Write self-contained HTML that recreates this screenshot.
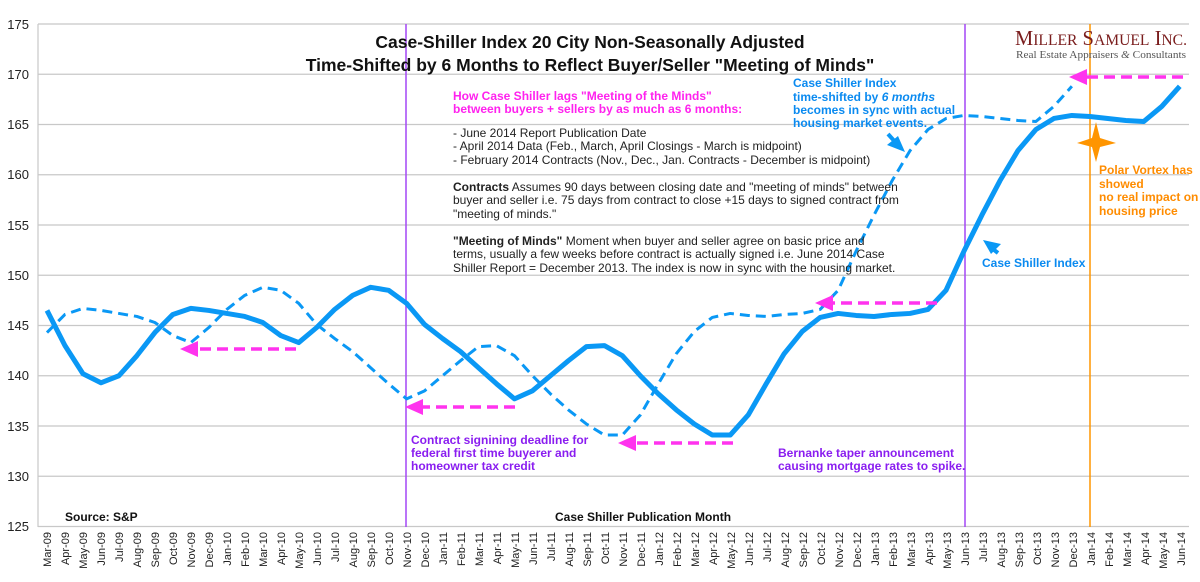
<!DOCTYPE html>
<html><head><meta charset="utf-8"><style>
body{margin:0;background:#fff}
svg{display:block;font-family:"Liberation Sans",Arial,sans-serif}
</style></head><body>
<svg width="1200" height="582" viewBox="0 0 1200 582" xmlns="http://www.w3.org/2000/svg">
<rect width="1200" height="582" fill="#fff"/>
<g stroke="#c8c8c8" stroke-width="1.2">
<line x1="38" x2="1189" y1="24" y2="24"/><line x1="38" x2="1189" y1="74.25" y2="74.25"/>
<line x1="38" x2="1189" y1="124.5" y2="124.5"/><line x1="38" x2="1189" y1="174.75" y2="174.75"/>
<line x1="38" x2="1189" y1="225" y2="225"/><line x1="38" x2="1189" y1="275.25" y2="275.25"/>
<line x1="38" x2="1189" y1="325.5" y2="325.5"/><line x1="38" x2="1189" y1="375.75" y2="375.75"/>
<line x1="38" x2="1189" y1="426" y2="426"/><line x1="38" x2="1189" y1="476.25" y2="476.25"/>
<line x1="38" x2="1189" y1="526.5" y2="526.5"/>
<line x1="38" x2="38" y1="24" y2="527"/>
</g>
<g font-size="13" fill="#222" text-anchor="end">
<text x="29" y="29">175</text><text x="29" y="79">170</text><text x="29" y="129">165</text><text x="29" y="179">160</text><text x="29" y="230">155</text><text x="29" y="280">150</text><text x="29" y="330">145</text><text x="29" y="380">140</text><text x="29" y="431">135</text><text x="29" y="481">130</text><text x="29" y="531">125</text>
</g>

<line x1="406" x2="406" y1="24" y2="527" stroke="#a347f5" stroke-width="1.5"/>
<line x1="965" x2="965" y1="24" y2="527" stroke="#a347f5" stroke-width="1.5"/>
<line x1="1090" x2="1090" y1="24" y2="527" stroke="#ff9500" stroke-width="1.5"/>

<g transform="translate(47,1782.75) scale(17.98,-10.05)" fill="none" stroke="#0a98f5" stroke-linejoin="round">
<polyline vector-effect="non-scaling-stroke" stroke-width="5" points="0,146.5 1,143 2,140.2 3,139.3 4,140 5,142 6,144.3 7,146.1 8,146.7 9,146.5 10,146.2 11,145.9 12,145.3 13,144 14,143.3 15,144.8 16,146.6 17,148 18,148.8 19,148.5 20,147.2 21,145.1 22,143.7 23,142.4 24,140.8 25,139.2 26,137.7 27,138.5 28,140 29,141.5 30,142.9 31,143 32,142 33,140 34,138.2 35,136.6 36,135.2 37,134.1 38,134.1 39,136.1 40,139.2 41,142.2 42,144.4 43,145.8 44,146.2 45,146 46,145.9 47,146.1 48,146.2 49,146.6 50,148.5 51,152.4 52,156 53,159.4 54,162.4 55,164.5 56,165.6 57,165.9 58,165.8 59,165.6 60,165.4 61,165.3 62,166.8 63,168.8"/>
<polyline vector-effect="non-scaling-stroke" stroke-width="3" stroke-dasharray="10,6" points="0,144.3 1,146.1 2,146.7 3,146.5 4,146.2 5,145.9 6,145.3 7,144 8,143.3 9,144.8 10,146.6 11,148 12,148.8 13,148.5 14,147.2 15,145.1 16,143.7 17,142.4 18,140.8 19,139.2 20,137.7 21,138.5 22,140 23,141.5 24,142.9 25,143 26,142 27,140 28,138.2 29,136.6 30,135.2 31,134.1 32,134.1 33,136.1 34,139.2 35,142.2 36,144.4 37,145.8 38,146.2 39,146 40,145.9 41,146.1 42,146.2 43,146.6 44,148.5 45,152.4 46,156 47,159.4 48,162.4 49,164.5 50,165.6 51,165.9 52,165.8 53,165.6 54,165.4 55,165.3 56,166.8 57,168.8"/>
</g>

<g stroke="#ff33ee" stroke-width="3.5" stroke-dasharray="11,6" fill="none">
<line x1="296" y1="349" x2="196" y2="349"/>
<line x1="515" y1="407" x2="420" y2="407"/>
<line x1="733" y1="443" x2="634" y2="443"/>
<line x1="937" y1="303" x2="830" y2="303"/>
<line x1="1183" y1="77" x2="1086" y2="77"/>
</g>
<g fill="#ff33ee">
<polygon points="180,349 198,341 198,357"/>
<polygon points="405,407 423,399 423,415"/>
<polygon points="618,443 636,435 636,451"/>
<polygon points="815,303 833,295 833,311"/>
<polygon points="1069,77 1087,69 1087,85"/>
</g>
<g fill="#0a98f5" stroke="#0a98f5">
<line x1="888" y1="134" x2="897" y2="144" stroke-width="4"/>
<polygon points="905,152 887,145 898,136" stroke="none"/>
<line x1="998" y1="253" x2="989" y2="246" stroke-width="4"/>
<polygon points="983,240 1001,244 991,254" stroke="none"/>
</g>
<path d="M1096,122 L1100,138 L1116,143 L1100,147 L1096,162 L1092,147 L1077,143 L1092,138 Z" fill="#ff9500"/>

<g font-weight="bold" font-size="17.5" text-anchor="middle" fill="#111">
<text x="590" y="48">Case-Shiller Index 20 City Non-Seasonally Adjusted</text>
<text x="590" y="71">Time-Shifted by 6 Months to Reflect Buyer/Seller "Meeting of Minds"</text>
</g>
<text x="1015" y="45" font-family="Liberation Serif,serif" font-size="21" fill="#7a1d1d" textLength="172" lengthAdjust="spacingAndGlyphs">M<tspan font-size="16">ILLER</tspan> S<tspan font-size="16">AMUEL</tspan> I<tspan font-size="16">NC.</tspan></text>
<text x="1016" y="58" font-family="Liberation Serif,serif" font-size="11" fill="#555" textLength="170" lengthAdjust="spacingAndGlyphs">Real Estate Appraisers <tspan font-style="italic">&amp;</tspan> Consultants</text>

<g font-size="12" fill="#ff22ee" font-weight="bold">
<text x="453" y="100">How Case Shiller lags "Meeting of the Minds"</text>
<text x="453" y="113">between buyers + sellers by as much as 6 months:</text>
</g>
<g font-size="12" fill="#222">
<text x="453" y="137">- June 2014 Report Publication Date</text>
<text x="453" y="150">- April 2014 Data (Feb., March, April Closings - March is midpoint)</text>
<text x="453" y="164">- February 2014 Contracts (Nov., Dec., Jan. Contracts - December is midpoint)</text>
<text x="453" y="191"><tspan font-weight="bold">Contracts</tspan> Assumes 90 days between closing date and "meeting of minds" between</text>
<text x="453" y="204">buyer and seller i.e. 75 days from contract to close +15 days to signed contract from</text>
<text x="453" y="218">"meeting of minds."</text>
<text x="453" y="245"><tspan font-weight="bold">"Meeting of Minds"</tspan> Moment when buyer and seller agree on basic price and</text>
<text x="453" y="258">terms, usually a few weeks before contract is actually signed i.e. June 2014 Case</text>
<text x="453" y="272">Shiller Report = December 2013.  The index is now in sync with the housing market.</text>
</g>
<g font-size="12" fill="#0a8af0" font-weight="bold">
<text x="793" y="87">Case Shiller Index</text>
<text x="793" y="101">time-shifted by <tspan font-style="italic">6 months</tspan></text>
<text x="793" y="114">becomes in sync with actual</text>
<text x="793" y="127">housing market events.</text>
<text x="982" y="267">Case Shiller Index</text>
</g>
<g font-size="12" fill="#ff8c00" font-weight="bold">
<text x="1099" y="174">Polar Vortex has</text>
<text x="1099" y="188">showed</text>
<text x="1099" y="201">no real impact on</text>
<text x="1099" y="215">housing price</text>
</g>
<g font-size="12" fill="#8a1df0" font-weight="bold">
<text x="411" y="444">Contract signining deadline for</text>
<text x="411" y="457">federal first time buyerer and</text>
<text x="411" y="470">homeowner tax credit</text>
<text x="778" y="457">Bernanke taper announcement</text>
<text x="778" y="470">causing mortgage rates to spike.</text>
</g>
<g font-size="12" font-weight="bold" fill="#111">
<text x="65" y="521">Source: S&amp;P</text>
<text x="555" y="521">Case Shiller Publication Month</text>
</g>

<g font-size="11" fill="#222" text-anchor="end">
<text transform="translate(51,532) rotate(-90)">Mar-09</text>
<text transform="translate(69,532) rotate(-90)">Apr-09</text>
<text transform="translate(87,532) rotate(-90)">May-09</text>
<text transform="translate(105,532) rotate(-90)">Jun-09</text>
<text transform="translate(123,532) rotate(-90)">Jul-09</text>
<text transform="translate(141,532) rotate(-90)">Aug-09</text>
<text transform="translate(159,532) rotate(-90)">Sep-09</text>
<text transform="translate(177,532) rotate(-90)">Oct-09</text>
<text transform="translate(195,532) rotate(-90)">Nov-09</text>
<text transform="translate(213,532) rotate(-90)">Dec-09</text>
<text transform="translate(231,532) rotate(-90)">Jan-10</text>
<text transform="translate(249,532) rotate(-90)">Feb-10</text>
<text transform="translate(267,532) rotate(-90)">Mar-10</text>
<text transform="translate(285,532) rotate(-90)">Apr-10</text>
<text transform="translate(303,532) rotate(-90)">May-10</text>
<text transform="translate(321,532) rotate(-90)">Jun-10</text>
<text transform="translate(339,532) rotate(-90)">Jul-10</text>
<text transform="translate(357,532) rotate(-90)">Aug-10</text>
<text transform="translate(375,532) rotate(-90)">Sep-10</text>
<text transform="translate(393,532) rotate(-90)">Oct-10</text>
<text transform="translate(411,532) rotate(-90)">Nov-10</text>
<text transform="translate(429,532) rotate(-90)">Dec-10</text>
<text transform="translate(447,532) rotate(-90)">Jan-11</text>
<text transform="translate(465,532) rotate(-90)">Feb-11</text>
<text transform="translate(483,532) rotate(-90)">Mar-11</text>
<text transform="translate(501,532) rotate(-90)">Apr-11</text>
<text transform="translate(519,532) rotate(-90)">May-11</text>
<text transform="translate(537,532) rotate(-90)">Jun-11</text>
<text transform="translate(555,532) rotate(-90)">Jul-11</text>
<text transform="translate(573,532) rotate(-90)">Aug-11</text>
<text transform="translate(591,532) rotate(-90)">Sep-11</text>
<text transform="translate(609,532) rotate(-90)">Oct-11</text>
<text transform="translate(627,532) rotate(-90)">Nov-11</text>
<text transform="translate(645,532) rotate(-90)">Dec-11</text>
<text transform="translate(663,532) rotate(-90)">Jan-12</text>
<text transform="translate(681,532) rotate(-90)">Feb-12</text>
<text transform="translate(699,532) rotate(-90)">Mar-12</text>
<text transform="translate(717,532) rotate(-90)">Apr-12</text>
<text transform="translate(735,532) rotate(-90)">May-12</text>
<text transform="translate(753,532) rotate(-90)">Jun-12</text>
<text transform="translate(771,532) rotate(-90)">Jul-12</text>
<text transform="translate(789,532) rotate(-90)">Aug-12</text>
<text transform="translate(807,532) rotate(-90)">Sep-12</text>
<text transform="translate(825,532) rotate(-90)">Oct-12</text>
<text transform="translate(843,532) rotate(-90)">Nov-12</text>
<text transform="translate(861,532) rotate(-90)">Dec-12</text>
<text transform="translate(879,532) rotate(-90)">Jan-13</text>
<text transform="translate(897,532) rotate(-90)">Feb-13</text>
<text transform="translate(915,532) rotate(-90)">Mar-13</text>
<text transform="translate(933,532) rotate(-90)">Apr-13</text>
<text transform="translate(951,532) rotate(-90)">May-13</text>
<text transform="translate(969,532) rotate(-90)">Jun-13</text>
<text transform="translate(987,532) rotate(-90)">Jul-13</text>
<text transform="translate(1005,532) rotate(-90)">Aug-13</text>
<text transform="translate(1023,532) rotate(-90)">Sep-13</text>
<text transform="translate(1041,532) rotate(-90)">Oct-13</text>
<text transform="translate(1059,532) rotate(-90)">Nov-13</text>
<text transform="translate(1077,532) rotate(-90)">Dec-13</text>
<text transform="translate(1095,532) rotate(-90)">Jan-14</text>
<text transform="translate(1113,532) rotate(-90)">Feb-14</text>
<text transform="translate(1131,532) rotate(-90)">Mar-14</text>
<text transform="translate(1149,532) rotate(-90)">Apr-14</text>
<text transform="translate(1167,532) rotate(-90)">May-14</text>
<text transform="translate(1185,532) rotate(-90)">Jun-14</text>
</g>
</svg>
</body></html>
